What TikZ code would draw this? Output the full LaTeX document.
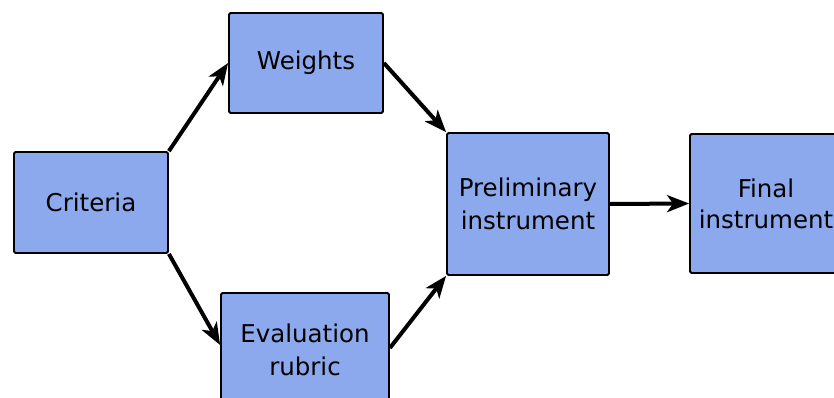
\documentclass[tikz,border=0pt]{standalone}
\usepackage{fontspec}
\setmainfont{DejaVu Sans}
\usetikzlibrary{arrows.meta}
\definecolor{boxfill}{RGB}{140,169,238}
\begin{document}
\begin{tikzpicture}[x=1pt,y=-1pt,
  stage/.style={draw=black, line width=1.8pt, fill=boxfill, rounded corners=1.5pt,
    inner sep=0pt, align=center, font=\fontsize{24.5}{33}\selectfont},
  flow/.style={line width=4pt, -{Stealth[length=22pt,width=17pt,inset=6pt]}}]
\useasboundingbox (0,0) rectangle (834,398);
\clip (0,0) rectangle (834,398);
\node[stage, minimum width=154, minimum height=101] (crit) at (91,202.5) {Criteria};
\node[stage, minimum width=154, minimum height=100] (wts) at (306,63) {Weights};
\node[stage, minimum width=168, minimum height=114] (rub) at (305,350) {Evaluation\\rubric};
\node[stage, minimum width=162, minimum height=142] (prel) at (528,204) {Preliminary\\instrument};
\node[stage, minimum width=152, minimum height=139] (fin) at (766,203.5) {Final\\[-2pt]instrument};
\coordinate (rubin) at (rub.west |- 0,345);
\coordinate (rubout) at (rub.east |- 0,348);
\draw[flow] (crit.north east) -- (wts.west);
\draw[flow] (crit.south east) -- (rubin);
\draw[flow] (wts.east) -- (prel.north west);
\draw[flow] (rubout) -- (prel.south west);
\draw[flow] (prel.east) -- (fin.west);
\end{tikzpicture}
\end{document}
